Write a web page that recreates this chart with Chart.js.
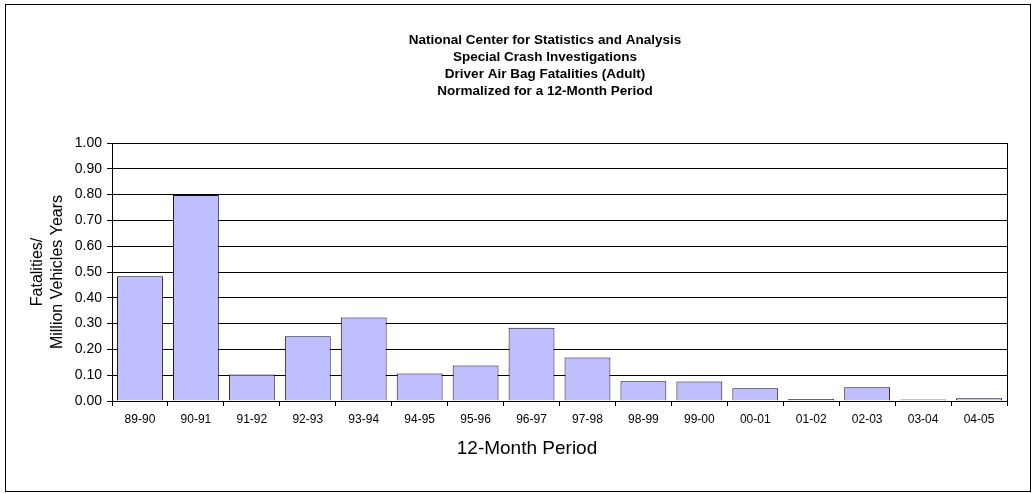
<!DOCTYPE html>
<html>
<head>
<meta charset="utf-8">
<script src="https://cdn.jsdelivr.net/npm/chart.js@4/dist/chart.umd.min.js"></script>
<style>
  html, body { margin: 0; padding: 0; background: #fff; }
  canvas { display: block; }
</style>
</head>
<body>
<canvas id="chart" width="1032" height="493"></canvas>
<script>
// --- Data ---
const periods = ["89-90", "90-91", "91-92", "92-93", "93-94", "94-95", "95-96", "96-97",
                 "97-98", "98-99", "99-00", "00-01", "01-02", "02-03", "03-04", "04-05"];
const fatalityRates = [0.484, 0.798, 0.103, 0.251, 0.324, 0.107, 0.138, 0.284,
                       0.169, 0.077, 0.076, 0.049, 0.008, 0.053, 0.006, 0.011];
const titleLines = [
    "National Center for Statistics and Analysis",
    "Special Crash Investigations",
    "Driver Air Bag Fatalities (Adult)",
    "Normalized for a 12-Month Period"
];
const yAxisTitle = ["Fatalities/", "Million Vehicles Years"];
const xAxisTitle = "12-Month Period";

const FONT = '"Liberation Sans", Arial, sans-serif';
Chart.defaults.font.family = FONT;
Chart.defaults.color = '#000';

// outer frame, plot frame and free-placed titles
const decorations = {
    id: 'decorations',
    afterDraw(chart) {
        const ctx = chart.ctx;
        const a = chart.chartArea;
        ctx.save();
        ctx.strokeStyle = '#000';
        ctx.lineWidth = 1;
        ctx.strokeRect(5.5, 4.5, 1025, 487);
        ctx.strokeRect(a.left + 0.5, a.top + 0.5, a.right - a.left, a.bottom - a.top);

        ctx.fillStyle = '#000';
        ctx.textAlign = 'center';
        ctx.textBaseline = 'middle';
        ctx.font = 'bold 13.5px ' + FONT;
        titleLines.forEach((line, i) => ctx.fillText(line, 545, 40.5 + i * 17));

        ctx.font = '19px ' + FONT;
        ctx.fillText(xAxisTitle, 527, 449);
        ctx.restore();
    }
};

new Chart(document.getElementById('chart'), {
    type: 'bar',
    data: {
        labels: periods,
        datasets: [{
            data: fatalityRates,
            backgroundColor: '#BFBFFF',
            borderColor: '#111',
            borderWidth: 1,
            barPercentage: 0.82,
            categoryPercentage: 1
        }]
    },
    options: {
        responsive: false,
        animation: false,
        layout: { padding: { left: 0, right: 25, top: 143, bottom: 0 }, autoPadding: false },
        plugins: {
            legend: { display: false },
            tooltip: { enabled: false }
        },
        scales: {
            x: {
                offset: true,
                grid: { offset: true, drawOnChartArea: false, color: '#000', tickLength: 5 },
                border: { color: '#000' },
                ticks: { font: { size: 12 }, color: '#000', padding: 6, maxRotation: 0, autoSkip: false },
                afterFit: (scale) => { scale.height = 92; }
            },
            y: {
                min: 0,
                max: 1,
                grid: { color: '#000', tickLength: 5 },
                border: { color: '#000' },
                ticks: {
                    stepSize: 0.1,
                    font: { size: 14 },
                    color: '#000',
                    padding: 5,
                    callback: (v) => v.toFixed(2)
                },
                title: {
                    display: true,
                    text: yAxisTitle,
                    font: { size: 16, lineHeight: 1.25 },
                    color: '#000',
                    padding: { top: 28, bottom: 0 }
                },
                afterFit: (scale) => { scale.width = 112; }
            }
        }
    },
    plugins: [decorations]
});
</script>
</body>
</html>
